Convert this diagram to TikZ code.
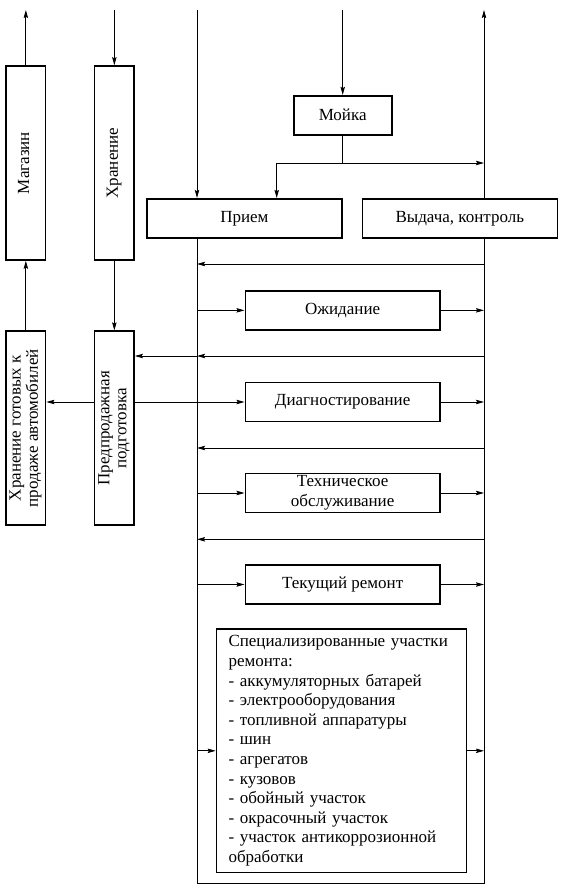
\documentclass[tikz,border=0pt]{standalone}
\usepackage{fontspec}
\usepackage{graphicx}
\setmainfont{Liberation Serif}
\usetikzlibrary{arrows.meta}
\newcommand{\vlab}[1]{\rotatebox{90}{\begin{tabular}{@{}c@{}}#1\end{tabular}}}
\begin{document}
\begin{tikzpicture}[x=1pt,y=-1pt,
  box/.style={draw,line width=1.6pt,rectangle,inner sep=0pt,align=center,font=\fontsize{17}{20}\selectfont},
  vbox/.style={box,minimum width=39.5pt,minimum height=194pt,font=\fontsize{17}{17}\selectfont},
  hbox/.style={box,minimum width=194.7pt,minimum height=39pt},
  conn/.style={line width=0.8pt},
  arr/.style={conn,-{Stealth[length=8pt,width=4.4pt,inset=1.2pt]}}]
\useasboundingbox (0,0) rectangle (561,891);
% coordinates of the two buses
\coordinate (Ltop) at (197,10);
\coordinate (Lbot) at (197,883);
\coordinate (Rtop) at (484,10);
\coordinate (Rbot) at (484,883);
\coordinate (Xtop) at (114.35,10);
\coordinate (Mtop) at (342.7,10);
% boxes
\node[vbox] (mag) at (25.85,163) {\vlab{Магазин}};
\node[vbox] (xr) at (114.35,163) {\vlab{Хранение}};
\node[vbox] (xrg) at (25.85,428.2) {\vlab{Хранение готовых к\\продаже автомобилей}};
\node[vbox] (pred) at (114.35,428.2) {\vlab{Предпродажная\\подготовка}};
\node[box,minimum width=98pt,minimum height=39pt] (moika) at (342.7,115.2) {Мойка};
\node[hbox] (priem) at (244.35,218.3) {Прием};
\node[hbox,minimum width=195pt] (vyd) at (459.8,218.3) {Выдача, контроль};
\node[hbox] (ozh) at (342.65,310.35) {Ожидание};
\node[hbox] (diag) at (342.65,402) {Диагностирование};
\node[hbox] (to) at (342.65,493) {Техническое\\обслуживание};
\node[hbox] (tr) at (342.65,584.5) {Текущий ремонт};
\node[box,minimum width=250pt,minimum height=243.4pt,align=left,anchor=north west,text width=226pt,inner xsep=12pt,inner ysep=0pt,
  font=\fontsize{17}{19.6}\selectfont] (spec) at (215.7,628.3) {Специализированные участки\\ремонта:\\- аккумуляторных батарей\\- электрооборудования\\- топливной аппаратуры\\- шин\\- агрегатов\\- кузовов\\- обойный участок\\- окрасочный участок\\- участок антикоррозионной\\обработки};
% top inputs/outputs
\draw[arr] (mag.north) -- (mag.north |- Ltop);
\draw[arr] (Xtop) -- (xr.north);
\draw[arr] (xr.south) -- (pred.north);
\draw[arr] (xrg.north) -- (mag.south);
\draw[arr] (Ltop) -- (Ltop |- priem.north);
\draw[arr] (Mtop) -- (moika.north);
\draw[arr] (vyd.north -| Rtop) -- (Rtop);
% washing branch
\coordinate (wj) at (342.7,163);
\coordinate (wl) at (276.7,163);
\draw[conn] (moika.south) -- (wj);
\draw[arr] (wj) -- (wj -| Rtop);
\draw[arr] (wj) -- (wl) -- (wl |- priem.north);
% bus loop
\draw[conn] (Ltop |- priem.south) -- (Lbot) -- (Rbot) -- (Rtop |- vyd.south);
% return arrows
\coordinate (r1) at (484,264);
\coordinate (r2) at (484,356);
\coordinate (r3) at (484,448);
\coordinate (r4) at (484,539.3);
\draw[arr] (r1) -- (r1 -| Ltop);
\draw[arr] (r2) -- (r2 -| Ltop);
\draw[arr] (r2 -| Ltop) -- (r2 -| pred.east);
\draw[arr] (r3) -- (r3 -| Ltop);
\draw[arr] (r4) -- (r4 -| Ltop);
% forward arrows
\foreach \n in {ozh,to,tr,spec}{
  \draw[arr] (Ltop |- \n.west) -- (\n.west);
  \draw[arr] (\n.east) -- (Rtop |- \n.east);
}
\draw[arr] (pred.east |- diag.west) -- (diag.west);
\draw[arr] (diag.east) -- (Rtop |- diag.east);
\draw[arr] (pred.west |- diag.west) -- (xrg.east |- diag.west);
\end{tikzpicture}
\end{document}
